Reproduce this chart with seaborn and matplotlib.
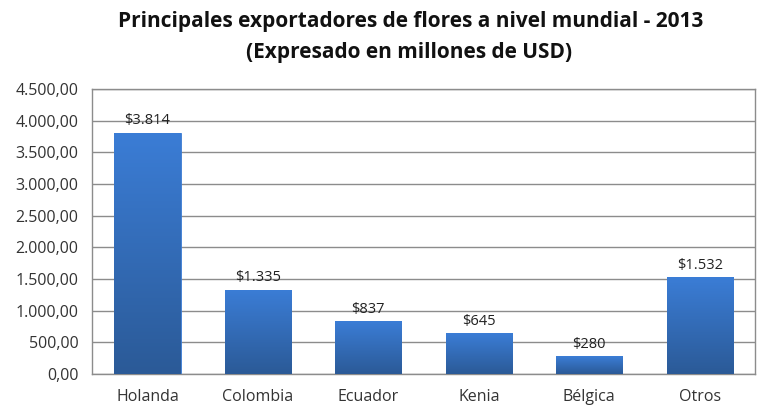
import matplotlib
matplotlib.use("Agg")
import numpy as np
import pandas as pd
import matplotlib.pyplot as plt
import seaborn as sns
from matplotlib.colors import LinearSegmentedColormap

# datos del gráfico
paises = ["Holanda", "Colombia", "Ecuador", "Kenia", "Bélgica", "Otros"]
valores = [3814, 1335, 837, 645, 280, 1532]
etiquetas = ["$3.814", "$1.335", "$837", "$645", "$280", "$1.532"]
yticks = [0, 500, 1000, 1500, 2000, 2500, 3000, 3500, 4000, 4500]

df = pd.DataFrame({"pais": paises, "valor": valores})

sns.set_style("white")
plt.rcParams["font.family"] = ["Open Sans", "DejaVu Sans"]

fig = plt.figure(figsize=(7.68, 4.07), dpi=100)
ax = fig.add_axes([0.12, 0.081, 0.863, 0.70])

sns.barplot(data=df, x="pais", y="valor", color="#3470C0", width=0.6,
            ax=ax, zorder=2)

ax.set_ylim(0, 4500)
ax.set_yticks(yticks)
ax.set_yticklabels([f"{v:,.2f}".replace(",", "X").replace(".", ",").replace("X", ".") for v in yticks],
                   fontsize=11.5, color="#333333")
ax.tick_params(axis="x", labelsize=11.5, colors="#333333", pad=11, length=0)
ax.tick_params(axis="y", length=0, pad=10)
ax.set_xlabel("")
ax.set_ylabel("")
ax.yaxis.grid(True, color="#8c8c8c", linewidth=1, zorder=0)
ax.set_axisbelow(True)
for s in ax.spines.values():
    s.set_color("#8c8c8c")
    s.set_linewidth(1)

# degradado vertical dentro de cada barra
cmap = LinearSegmentedColormap.from_list("grad", ["#2B5A97", "#3B7DD6"])
grad = np.linspace(0, 1, 256).reshape(-1, 1)
for bar in ax.patches:
    x0, y0 = bar.get_x(), bar.get_y()
    w, h = bar.get_width(), bar.get_height()
    im = ax.imshow(grad, cmap=cmap, extent=[x0, x0 + w, y0, y0 + h],
                   origin="lower", aspect="auto", zorder=3)
    im.set_clip_path(bar)
    bar.set_edgecolor("#3B7DD6")
    bar.set_linewidth(0.6)
ax.set_xlim(-0.5, len(paises) - 0.5)
ax.set_ylim(0, 4500)

for i, (v, t) in enumerate(zip(valores, etiquetas)):
    ax.text(i, v + 70, t, ha="center", va="bottom", fontsize=10.5, color="#222222", zorder=4)

fig.text(0.535, 0.948, "Principales exportadores de flores a nivel mundial - 2013",
         ha="center", va="center", fontsize=15, fontweight="bold", color="#111111")
fig.text(0.533, 0.87, "(Expresado en millones de USD)",
         ha="center", va="center", fontsize=15, fontweight="bold", color="#111111")

fig.savefig("out.png", dpi=100)
